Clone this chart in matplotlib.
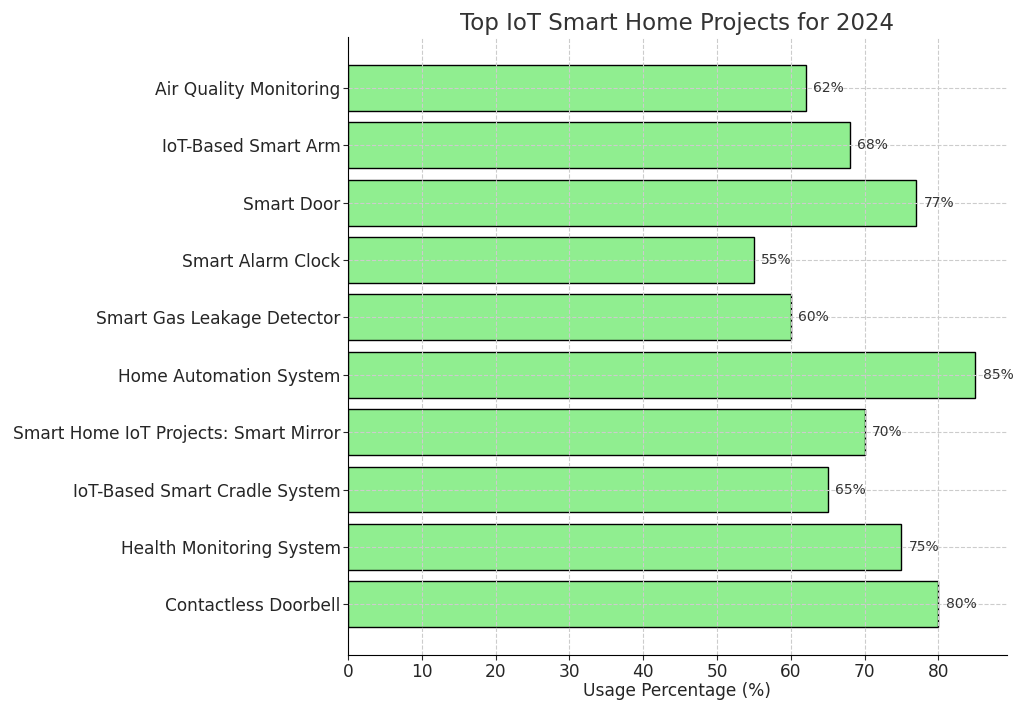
import matplotlib.pyplot as plt

# data
projects = [
    "Contactless Doorbell",
    "Health Monitoring System",
    "IoT-Based Smart Cradle System",
    "Smart Home IoT Projects: Smart Mirror",
    "Home Automation System",
    "Smart Gas Leakage Detector",
    "Smart Alarm Clock",
    "Smart Door",
    "IoT-Based Smart Arm",
    "Air Quality Monitoring",
]
usage = [80, 75, 65, 70, 85, 60, 55, 77, 68, 62]

fig, ax = plt.subplots(figsize=(10.24, 7.1), dpi=100)
bars = ax.barh(projects, usage, color="lightgreen", edgecolor="black")

for b, v in zip(bars, usage):
    ax.text(b.get_width() + 1, b.get_y() + b.get_height() / 2, f"{v}%",
            va="center", fontsize=10, color="#333333")

ax.set_title("Top IoT Smart Home Projects for 2024", fontsize=16.5, color="#333333", pad=5)
ax.set_xlabel("Usage Percentage (%)", fontsize=12.25, color="#262626", labelpad=1)
ax.tick_params(axis="both", labelsize=12.25, colors="#262626", pad=2)
ax.grid(True, linestyle="--", color="#cccccc", linewidth=0.8)
ax.spines["top"].set_visible(False)
ax.spines["right"].set_visible(False)

plt.subplots_adjust(left=0.34, right=0.983, top=0.948, bottom=0.077)
plt.savefig("out.png")
